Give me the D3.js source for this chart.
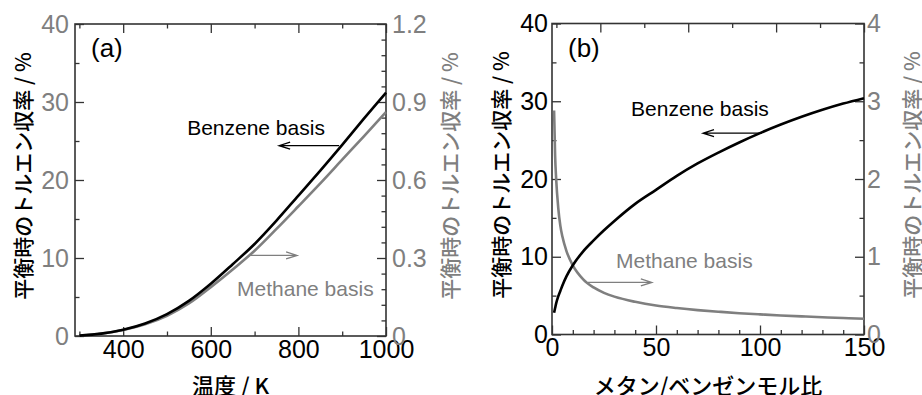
<!DOCTYPE html>
<html>
<head>
<meta charset="utf-8">
<script src="https://cdn.jsdelivr.net/npm/d3@7"></script>
<style>
  html, body { margin: 0; padding: 0; background: #fff; }
  svg { display: block; }
  .num { font-family: "Liberation Sans", Arial, sans-serif; }
  .jp { font-family: "Noto Sans CJK JP", sans-serif; }
</style>
</head>
<body>
<svg id="chart" width="922" height="395"></svg>
<script>
// ---- (a) equilibrium toluene yield vs temperature ----
const tempK = [300, 350, 400, 450, 500, 550, 600, 650, 700, 750, 800, 850, 900, 950, 1000];
const benzeneBasisA = [0.05, 0.3, 0.8, 1.6, 2.8, 4.5, 6.7, 9.2, 11.8, 14.8, 18.0, 21.2, 24.5, 27.9, 31.2];
const methaneBasisA = [0.0015, 0.009, 0.023, 0.045, 0.078, 0.125, 0.188, 0.256, 0.328, 0.412, 0.499, 0.587, 0.678, 0.769, 0.861];

// ---- (b) equilibrium toluene yield vs methane/benzene molar ratio ----
const molarRatio = [1, 1.5, 2, 3, 4, 5, 7, 10, 15, 20, 25, 30, 40, 50, 60, 70, 80, 90, 100, 110, 120, 130, 140, 150];
const benzeneBasisB = [2.8, 3.4, 4.0, 4.9, 5.6, 6.3, 7.5, 8.9, 10.7, 12.1, 13.4, 14.6, 16.8, 18.6, 20.4, 22.0, 23.4, 24.7, 25.9, 27.0, 28.0, 28.9, 29.7, 30.4];
const methaneBasisB = [2.88, 2.3, 2.0, 1.63, 1.40, 1.26, 1.07, 0.89, 0.71, 0.605, 0.536, 0.487, 0.42, 0.372, 0.34, 0.314, 0.293, 0.274, 0.259, 0.245, 0.233, 0.222, 0.212, 0.203];

// ---- tick values and labels ----
const tempMajor = [400, 600, 800, 1000];
const tempMinor = [300, 500, 700, 900];
const leftMajor = [0, 10, 20, 30, 40];
const leftMinor = [5, 15, 25, 35];
const rightMajorA = [0, 0.3, 0.6, 0.9, 1.2];
const rightLabelsA = ["0", "0.3", "0.6", "0.9", "1.2"];
const rightMinorA = [0.06, 0.12, 0.18, 0.24, 0.36, 0.42, 0.48, 0.54, 0.66, 0.72, 0.78, 0.84, 0.96, 1.02, 1.08, 1.14];
const ratioMajor = [0, 50, 100, 150];
const ratioMinor = [10, 20, 30, 40, 60, 70, 80, 90, 110, 120, 130, 140];
const rightMajorB = [0, 1, 2, 3, 4];
const rightMinorB = [0.5, 1.5, 2.5, 3.5];

const yTitle = "平衡時のトルエン収率 / %";
const BLACK = "#000", GRAY = "#7f7f7f", FRAME = "#333";
const TICK_FONT = 25;

const svg = d3.select("#chart");
svg.append("rect").attr("width", 922).attr("height", 395).attr("fill", "#fff");

const MAJ = 9, MIN = 4.5;

function ticks(g, axisGen, scale, vals, len, labels, color, pad) {
  const ax = axisGen(scale).tickValues(vals).tickSizeInner(-len).tickSizeOuter(0).tickPadding(pad || 6);
  if (labels) ax.tickFormat((d, i) => labels[i]); else ax.tickFormat("");
  g.call(ax);
  g.select(".domain").remove();
  g.selectAll(".tick line").attr("stroke", FRAME).attr("stroke-width", 1.3);
  g.selectAll(".tick text").attr("fill", color).attr("class", "num")
    .style("font-size", TICK_FONT + "px");
}

function panel(cfg) {
  const { box } = cfg;
  const g = svg.append("g");
  const x = d3.scaleLinear(cfg.xDomain, [box.l, box.r]);
  const xTop = d3.scaleLinear(cfg.xTopDomain, [box.l, box.r]);
  const yL = d3.scaleLinear([0, 40], [box.b, box.t]);
  const yR = d3.scaleLinear(cfg.yRDomain, [box.b, box.t]);

  // bottom axis
  const gb = g.append("g").attr("transform", `translate(0,${box.b})`);
  ticks(gb.append("g"), d3.axisBottom, x, cfg.xMajor, MAJ, cfg.xMajor.map(String), BLACK, 4);
  ticks(gb.append("g"), d3.axisBottom, x, cfg.xMinor, MIN, null, BLACK);
  // top axis (unlabelled)
  const gt = g.append("g").attr("transform", `translate(0,${box.t})`);
  ticks(gt.append("g"), d3.axisTop, xTop, tempMajor, MAJ, null, BLACK);
  ticks(gt.append("g"), d3.axisTop, xTop, tempMinor, MIN, null, BLACK);
  // left axis
  const gl = g.append("g").attr("transform", `translate(${box.l},0)`);
  ticks(gl.append("g"), d3.axisLeft, yL, leftMajor, MAJ, leftMajor.map(String), cfg.leftColor, cfg.leftPad);
  ticks(gl.append("g"), d3.axisLeft, yL, leftMinor, MIN, null, BLACK);
  // right axis
  const gr = g.append("g").attr("transform", `translate(${box.r},0)`);
  ticks(gr.append("g"), d3.axisRight, yR, cfg.yRMajor, MAJ, cfg.yRLabels, GRAY, cfg.rightPad);
  ticks(gr.append("g"), d3.axisRight, yR, cfg.yRMinor, MIN, null, BLACK);

  // frame
  g.append("rect").attr("x", box.l).attr("y", box.t)
    .attr("width", box.r - box.l).attr("height", box.b - box.t)
    .attr("fill", "none").attr("stroke", FRAME).attr("stroke-width", 1.6);

  // series
  const lineL = d3.line().x(d => x(d[0])).y(d => yL(d[1])).curve(d3.curveMonotoneX);
  const lineR = d3.line().x(d => x(d[0])).y(d => yR(d[1])).curve(d3.curveMonotoneX);
  g.append("path").datum(d3.zip(cfg.xs, cfg.methane)).attr("d", lineR)
    .attr("fill", "none").attr("stroke", GRAY).attr("stroke-width", 2.6);
  g.append("path").datum(d3.zip(cfg.xs, cfg.benzene)).attr("d", lineL)
    .attr("fill", "none").attr("stroke", BLACK).attr("stroke-width", 2.6);

  // annotations with arrows
  function arrow(x0, x1, yv, yScale, color) {
    const X0 = x(x0), X1 = x(x1), Y = yScale(yv);
    const dir = X1 > X0 ? -1 : 1;
    g.append("path")
      .attr("d", `M${X0},${Y}L${X1},${Y}M${X1 + dir * 11},${Y - 3.5}L${X1},${Y}L${X1 + dir * 11},${Y + 3.5}`)
      .attr("fill", "none").attr("stroke", color).attr("stroke-width", 1.3);
  }
  function label(text, xv, yv, yScale, color) {
    g.append("text").attr("class", "num").attr("x", x(xv)).attr("y", yScale(yv))
      .attr("fill", color).style("font-size", "21px").text(text);
  }
  const a = cfg.notes;
  label("Benzene basis", a.bText[0], a.bText[1], yL, BLACK);
  arrow(a.bArrow[0], a.bArrow[1], a.bArrow[2], yL, BLACK);
  label("Methane basis", a.mText[0], a.mText[1], yR, GRAY);
  arrow(a.mArrow[0], a.mArrow[1], a.mArrow[2], yR, GRAY);

  // panel tag
  g.append("text").attr("class", "num").attr("x", box.l + cfg.tagDx).attr("y", box.t + 33)
    .attr("fill", BLACK).style("font-size", "26px").text(cfg.tag);

  // axis titles
  const midY = (box.t + box.b) / 2 - 4;
  g.append("text").attr("class", "jp").attr("transform", `translate(${cfg.leftTitleX},${midY}) rotate(-90)`)
    .attr("text-anchor", "middle").attr("dominant-baseline", "central")
    .attr("fill", BLACK).style("font-size", "21px").style("font-weight", "500").text(yTitle);
  g.append("text").attr("class", "jp").attr("transform", `translate(${cfg.rightTitleX},${midY}) rotate(-90)`)
    .attr("text-anchor", "middle").attr("dominant-baseline", "central")
    .attr("fill", GRAY).style("font-size", "21px").style("font-weight", "500").text(yTitle);
  g.append("text").attr("class", "jp").attr("x", (box.l + box.r) / 2).attr("y", 394)
    .attr("text-anchor", "middle").attr("fill", BLACK)
    .style("font-size", "22px").style("font-weight", "500").text(cfg.xTitle);
}

panel({
  box: { l: 75, r: 386, t: 24, b: 336 },
  xDomain: [290, 1000], xTopDomain: [290, 1000],
  xMajor: tempMajor, xMinor: tempMinor,
  yRDomain: [0, 1.2], yRMajor: rightMajorA, yRLabels: rightLabelsA, yRMinor: rightMinorA,
  leftColor: GRAY, leftPad: 6, rightPad: 6,
  xs: tempK, benzene: benzeneBasisA, methane: methaneBasisA,
  notes: {
    bText: [546, 25.8], bArrow: [893, 756, 24.4],
    mText: [660, 0.152], mArrow: [687, 797, 0.31]
  },
  tag: "(a)", tagDx: 16,
  leftTitleX: 22, rightTitleX: 449, xTitle: "温度 / K"
});

panel({
  box: { l: 552, r: 864, t: 23.5, b: 334.5 },
  xDomain: [0, 150], xTopDomain: [290, 1000],
  xMajor: ratioMajor, xMinor: ratioMinor,
  yRDomain: [0, 4], yRMajor: rightMajorB, yRLabels: rightMajorB.map(String), yRMinor: rightMinorB,
  leftColor: BLACK, leftPad: 4, rightPad: 3,
  xs: molarRatio, benzene: benzeneBasisB, methane: methaneBasisB,
  notes: {
    bText: [38, 28.1], bArrow: [101, 72.6, 25.9],
    mText: [30.8, 0.85], mArrow: [17.3, 48, 0.67]
  },
  tag: "(b)", tagDx: 16,
  leftTitleX: 500, rightTitleX: 911, xTitle: "メタン/ベンゼンモル比"
});
</script>
</body>
</html>
